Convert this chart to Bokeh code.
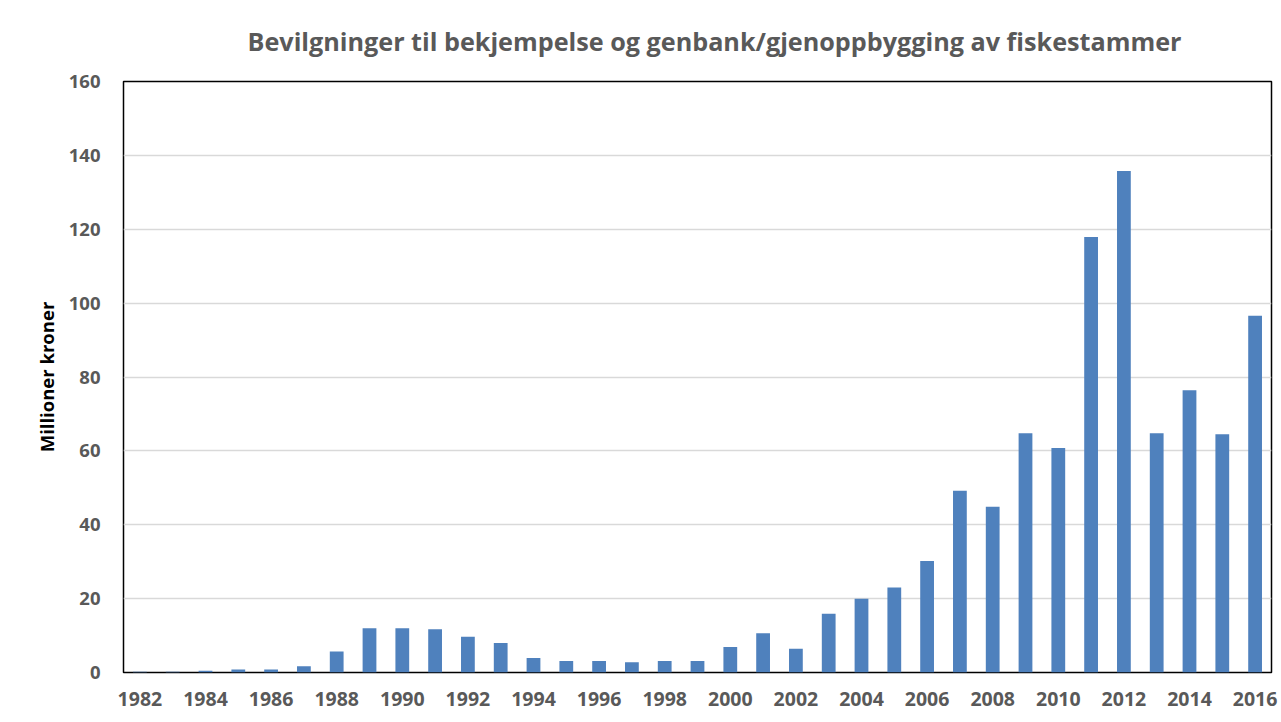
from bokeh.plotting import figure
from bokeh.models import Range1d, FixedTicker, ColumnDataSource, Title
from bokeh.embed import file_html
from bokeh.resources import INLINE

years = list(range(1982, 2017))
values = [0.2, 0.2, 0.5, 0.8, 0.8, 1.7, 5.7, 12.0, 12.0, 11.7, 9.7, 8.0, 3.9, 3.1,
          3.1, 2.8, 3.1, 3.1, 6.9, 10.6, 6.4, 15.9, 20.0, 23.0, 30.2, 49.2, 44.9,
          64.8, 60.8, 117.9, 135.8, 64.8, 76.4, 64.5, 96.6]
x_ticks = list(range(1982, 2017, 2))
y_ticks = list(range(0, 161, 20))

title_text = "Bevilgninger til bekjempelse og genbank/gjenoppbygging av fiskestammer"
y_label = "Millioner kroner"

FONT = "Open Sans"
GRAY = "#595959"

p = figure(width=1279, height=720, output_backend="svg", toolbar_location=None,
           x_range=Range1d(1981.5, 2016.5), y_range=Range1d(0, 160),
           min_border_left=123, min_border_right=8, min_border_top=81,
           min_border_bottom=48)

src = ColumnDataSource(dict(x=years, top=values))
p.vbar(x="x", top="top", bottom=0, width=0.42, source=src,
       fill_color="#4F81BD", line_color=None)

t = Title(text=title_text, align="left", offset=124, text_font=FONT,
          text_font_size="25.2px", text_font_style="bold", text_color=GRAY,
          standoff=44, vertical_align="top")
p.add_layout(t, "above")

p.outline_line_color = "black"
p.outline_line_width = 1.5
p.background_fill_color = "white"
p.border_fill_color = "white"

p.xgrid.grid_line_color = None
p.ygrid.grid_line_color = "#D9D9D9"
p.ygrid.grid_line_width = 1.5
p.ygrid.ticker = FixedTicker(ticks=y_ticks)

p.xaxis.ticker = FixedTicker(ticks=x_ticks)
p.yaxis.ticker = FixedTicker(ticks=y_ticks)
for ax in (p.xaxis, p.yaxis):
    ax.axis_line_color = None
    ax.major_tick_line_color = None
    ax.minor_tick_line_color = None
    ax.major_tick_out = 0
    ax.major_tick_in = 0
    ax.major_label_text_font = FONT
    ax.major_label_text_font_style = "bold"
    ax.major_label_text_color = GRAY

p.xaxis.major_label_text_font_size = "19.5px"
p.yaxis.major_label_text_font_size = "18.5px"
p.xaxis.major_label_standoff = 19
p.yaxis.major_label_standoff = 23
p.yaxis.axis_label = y_label
p.yaxis.axis_label_text_font = FONT
p.yaxis.axis_label_text_font_size = "18.5px"
p.yaxis.axis_label_text_font_style = "bold"
p.yaxis.axis_label_text_color = "black"
p.yaxis.axis_label_standoff = 7

open("out.html", "w").write(file_html(p, INLINE))
